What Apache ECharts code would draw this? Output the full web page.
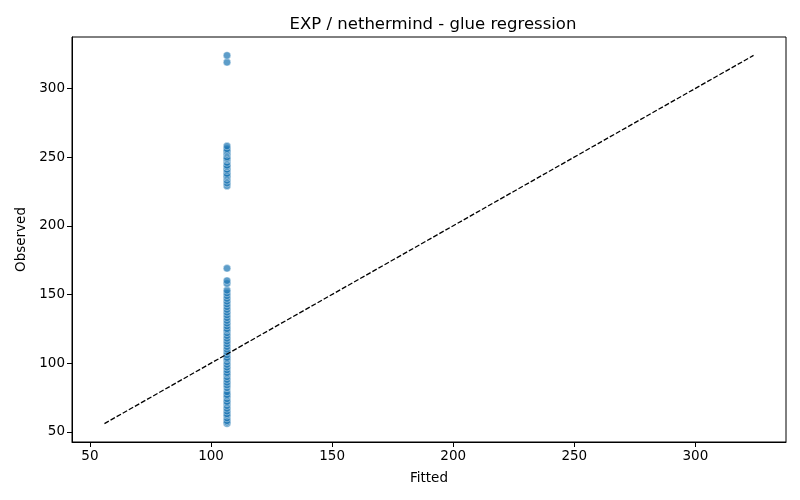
<!DOCTYPE html>
<html>
<head>
<meta charset="utf-8">
<script src="https://cdn.jsdelivr.net/npm/echarts@6/dist/echarts.min.js"></script>
<style>
  html, body { margin: 0; padding: 0; background: #fff; }
  #chart { width: 800px; height: 500px; }
</style>
</head>
<body>
<div id="chart"></div>
<script>
// fitted value is the same for every point (intercept-only fit)
var fittedValue = 106.6;
var observed = [
    56, 57, 58, 60, 62, 63, 65, 67, 69, 71, 72, 74, 76, 77, 79, 82, 84, 86, 88, 90,
    92, 93, 95, 97, 99, 101, 103, 104, 106, 108, 110, 112, 114, 116, 118, 120, 122,
    124, 125, 127, 129, 131, 133, 135, 137, 139, 141, 143, 145, 147, 149, 151, 153,
    158, 160, 169,
    229, 231, 233, 235, 236, 237, 238, 240, 241, 243, 243, 244, 246, 248, 249, 249,
    250, 252, 253, 254, 255, 256, 258,
    319, 324
];
var refLine = [56, 324];
var tickValues = [50, 100, 150, 200, 250, 300];
var axisMin = 42.6, axisMax = 337.4;

var points = observed.map(function (v) { return [fittedValue, v]; });
var linePts = refLine.map(function (v) { return [v, v]; });

var font = 'DejaVu Sans';

function makeAxis(name, gap) {
    return {
        type: 'value',
        min: axisMin,
        max: axisMax,
        name: name,
        nameLocation: 'middle',
        nameGap: gap,
        nameTextStyle: { color: '#000', fontSize: 13.5, fontFamily: font },
        axisLine: { show: true, lineStyle: { color: '#000', width: 1 } },
        axisTick: {
            show: true, length: 5, inside: false,
            customValues: tickValues,
            lineStyle: { color: '#000', width: 1 }
        },
        axisLabel: {
            customValues: tickValues,
            color: '#000', fontSize: 13.5, fontFamily: font, margin: 7
        },
        splitLine: { show: false }
    };
}

var myChart = echarts.init(document.getElementById('chart'));
var option = {
    animation: false,
    backgroundColor: '#fff',
    title: {
        text: 'EXP / nethermind - glue regression',
        left: 428,
        textAlign: 'center',
        top: 11,
        textStyle: { color: '#000', fontSize: 16.5, fontWeight: 'normal', fontFamily: font }
    },
    grid: {
        left: 72, right: 14, top: 37, bottom: 58,
        show: true, borderColor: '#000', borderWidth: 1, backgroundColor: 'transparent'
    },
    xAxis: makeAxis('Fitted', 29),
    yAxis: makeAxis('Observed', 44),
    series: [{
        type: 'scatter',
        data: points,
        symbolSize: 7.5,
        itemStyle: { color: '#1f77b4', opacity: 0.72, borderColor: '#fff', borderWidth: 0.6 },
        z: 2
    }, {
        type: 'line',
        data: linePts,
        symbol: 'none',
        lineStyle: { color: '#000', width: 1.3, type: [5, 2] },
        z: 3
    }]
};
myChart.setOption(option);
</script>
</body>
</html>
